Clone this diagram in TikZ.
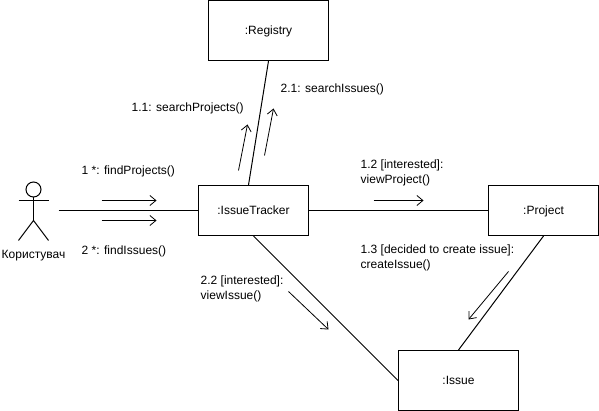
\documentclass[tikz,border=0pt]{standalone}
\usepackage{fontspec}
\setmainfont{Liberation Sans}
\usetikzlibrary{arrows.meta}
\tikzset{
  objbox/.style={draw,line width=1pt,minimum width=#1,minimum height=50pt,inner sep=0pt,text height=9pt,text depth=0.5pt},
  msglabel/.style={anchor=west,align=left,inner sep=0pt},
  link/.style={line width=1pt},
  msg/.style={line width=0.8pt,-{Straight Barb[length=6pt,width=10pt,line width=0.8pt]}}
}
\begin{document}
\begin{tikzpicture}[x=1pt,y=-1pt,every node/.style={font=\fontsize{12}{15}\selectfont}]
\useasboundingbox (-0.5,-0.5) rectangle (598.5,410.5);
\node[objbox=120pt,minimum height=60pt] (registry) at (268,30) {:Registry};
\node[objbox=110pt] (tracker) at (253,210) {:IssueTracker};
\node[objbox=110pt] (project) at (543,210) {:Project};
\node[objbox=120pt,minimum height=60pt] (issue) at (458,380) {:Issue};
\node[draw,circle,line width=1pt,minimum size=15pt,inner sep=0pt] (head) at (33,189) {};
\coordinate (hip) at (33,220);
\coordinate (armL) at (18,200);
\coordinate (armR) at (48,200);
\coordinate (legL) at (18,240);
\coordinate (legR) at (48,240);
\coordinate (actorEnd) at (58,210);
\draw[link] (head.south) -- (hip);
\draw[link] (armL) -- (armR);
\draw[link] (legL) -- (hip) -- (legR);
\node (actorname) at (33,255.5) {Користувач};
\draw[link] (actorEnd) -- (tracker.west);
\draw[link] (registry.south) -- ([xshift=-5pt]tracker.north);
\draw[link] (tracker.east) -- (project.west);
\draw[link] (project.south) -- (issue.north);
\draw[link] (tracker.south) -- (issue.west);
\coordinate (m1a) at (101,200);
\coordinate (m1b) at (156,200);
\coordinate (m2a) at (101,220);
\coordinate (m2b) at (156,220);
\coordinate (m3a) at (238,170);
\coordinate (m3b) at (247,124);
\coordinate (m4a) at (264,155);
\coordinate (m4b) at (273,108);
\coordinate (m5a) at (373,200);
\coordinate (m5b) at (423,200);
\coordinate (m6a) at (508,271);
\coordinate (m6b) at (468,319);
\coordinate (m7a) at (288,291);
\coordinate (m7b) at (328,329);
\draw[msg] (m1a) -- (m1b);
\draw[msg] (m2a) -- (m2b);
\draw[msg] (m3a) -- (m3b);
\draw[msg] (m4a) -- (m4b);
\draw[msg] (m5a) -- (m5b);
\draw[msg] (m6a) -- (m6b);
\draw[msg] (m7a) -- (m7b);
\node[msglabel] (l1) at (81,170.5) {1 *: findProjects()};
\node[msglabel] (l2) at (81,250.5) {2 *: findIssues()};
\node[msglabel] (l3) at (131,107.5) {1.1: searchProjects()};
\node[msglabel] (l4) at (280,88.5) {2.1: searchIssues()};
\node[msglabel] (l5) at (360,172.5) {1.2 [interested]:\\viewProject()};
\node[msglabel] (l6) at (360,257.5) {1.3 [decided to create issue]:\\createIssue()};
\node[msglabel] (l7) at (200,288.5) {2.2 [interested]:\\viewIssue()};
\end{tikzpicture}
\end{document}
